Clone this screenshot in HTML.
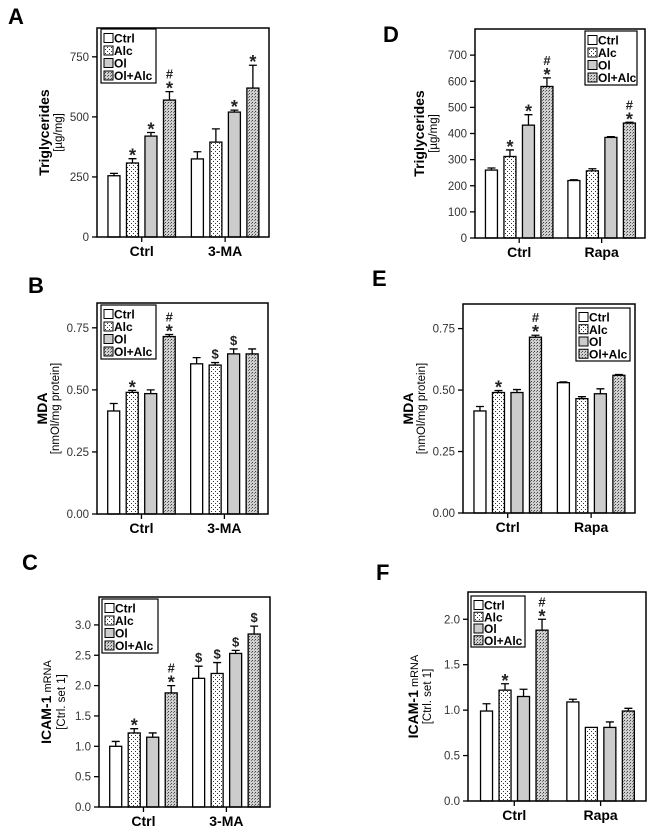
<!DOCTYPE html>
<html><head><meta charset="utf-8"><style>
body{margin:0;background:#fff;}
svg{display:block;font-family:"Liberation Sans",Arial,sans-serif;}
</style></head><body>
<svg id="fig" width="650" height="838" viewBox="0 0 650 838">
<defs>
<pattern id="pAlc" width="4" height="4" patternUnits="userSpaceOnUse"><rect width="4" height="4" fill="#fff"/><rect x="1" y="1" width="1" height="1" fill="#333"/><rect x="3" y="3" width="1" height="1" fill="#333"/></pattern>
<pattern id="pOlAlc" width="3" height="3" patternUnits="userSpaceOnUse"><rect width="3" height="3" fill="#d0d0d0"/><rect x="0" y="0" width="1" height="1" fill="#444"/><rect x="2" y="1" width="1" height="1" fill="#777"/></pattern>
</defs>
</svg>
<script>
const seriesNames=["Ctrl","Alc","Ol","Ol+Alc"];
const fills=["#fff","url(#pAlc)","#cccccc","url(#pOlAlc)"];
const catsA=["Ctrl","3-MA"], catsD=["Ctrl","Rapa"];
const valA=[[255,308,420,570],[325,395,520,620]];
const errA=[[10,18,15,35],[30,55,8,95]];
const annA=[["","*","*","#*"],["","","*","*"]];
const ticksA=[0,250,500,750];
const valD=[[260,312,432,580],[220,257,385,440]];
const errD=[[8,25,40,33],[3,8,3,3]];
const annD=[["","*","*","#*"],["","","","#*"]];
const ticksD=[0,100,200,300,400,500,600,700];
const valB=[[0.415,0.49,0.485,0.715],[0.605,0.60,0.645,0.645]];
const errB=[[0.03,0.008,0.015,0.008],[0.025,0.01,0.02,0.02]];
const annB=[["","*","","#*"],["","$","$",""]];
const ticksB=[0,0.25,0.5,0.75];
const valE=[[0.415,0.49,0.49,0.715],[0.53,0.465,0.485,0.56]];
const errE=[[0.018,0.008,0.012,0.008],[0.003,0.008,0.02,0.003]];
const annE=[["","*","","#*"],["","","",""]];
const ticksE=[0,0.25,0.5,0.75];
const valC=[[1.0,1.22,1.15,1.88],[2.12,2.2,2.53,2.85]];
const errC=[[0.08,0.07,0.07,0.12],[0.2,0.18,0.05,0.13]];
const annC=[["","*","","#*"],["$","$","$","$"]];
const ticksC=[0,0.5,1.0,1.5,2.0,2.5,3.0];
const valF=[[0.99,1.22,1.15,1.88],[1.09,0.81,0.81,0.99]];
const errF=[[0.08,0.07,0.08,0.12],[0.03,0,0.06,0.03]];
const annF=[["","*","","#*"],["","","",""]];
const ticksF=[0,0.5,1.0,1.5,2.0];

const NS="http://www.w3.org/2000/svg";
const svg=document.getElementById("fig");
function mk(tag,attrs,parent,text){const e=document.createElementNS(NS,tag);for(const k in attrs)e.setAttribute(k,attrs[k]);if(text!==undefined)e.textContent=text;(parent||svg).appendChild(e);return e;}

function panel(p){
  const g=mk("g",{});
  
  
  const lab=mk("text",{x:p.lx,y:p.ly,"font-size":22,"font-weight":"bold"},g,p.id);
  
  
  const L=p.L,R=p.R,T=p.T,B=p.B;
  const y=v=>B-(v/p.ymax)*(B-T);
  const W=R-L;
  const gx=gi=>L+W*(gi===0?0.26:0.745);
  const step=18.5,bw=12;
  const bx=(gi,si)=>gx(gi)+(si-1.5)*step-bw/2;
  p.vals.forEach((grp,gi)=>grp.forEach((v,si)=>{
    const r=mk("rect",{x:bx(gi,si),y:y(v),width:bw,height:B-y(v),fill:fills[si],stroke:"#000","stroke-width":1.3},g);
    
    
    const e=p.errs[gi][si];
    const cx=bx(gi,si)+bw/2;
    if(e>0){
      const eb=mk("path",{d:`M${cx},${y(v)} V${y(v+e)} M${cx-4},${y(v+e)} H${cx+4}`,stroke:"#000","stroke-width":1.3,fill:"none"},g);
      
      
    }
    const a=p.anns[gi][si];
    if(a){
      let ty=y(v+e)-4;
      const chars=a.split("").reverse();
      chars.forEach(ch=>{
        const isStar=ch==="*";
        const t=mk("text",{x:cx,y:isStar?ty+7:ty,"text-anchor":"middle","font-size":isStar?18:13,"font-weight":"bold",fill:"#222"},g,ch);
        
        
        ty-=isStar?9:12;
      });
    }
  }));
  const bxr=mk("rect",{x:L,y:T,width:W,height:B-T,fill:"none",stroke:"#000","stroke-width":1.5},g);
  
  
  p.ticks.forEach(t=>{
    mk("line",{x1:L-5,x2:L,y1:y(t),y2:y(t),stroke:"#000","stroke-width":1.3},g);
    const tl=mk("text",{x:L-8,y:y(t)+4,"text-anchor":"end","font-size":11.5,fill:"#333"},g,t.toFixed(p.dec));
    
    
  });
  p.cats.forEach((c,gi)=>{
    mk("line",{x1:gx(gi),x2:gx(gi),y1:B,y2:B+5,stroke:"#000","stroke-width":1.3},g);
    const xl=mk("text",{x:gx(gi),y:B+19,"text-anchor":"middle","font-size":14,"font-weight":"bold"},g,c);
    
    
  });
  const cy=(T+B)/2;
  const yt=mk("text",{transform:`translate(${L-p.t1},${cy}) rotate(-90)`,"text-anchor":"middle","font-size":14,"font-weight":"bold"},g);
  
  
  mk("tspan",{},yt,p.title);
  if(p.titleSmall){mk("tspan",{"font-weight":"normal","font-size":11},yt," "+p.titleSmall);}
  const ys=mk("text",{transform:`translate(${L-p.t2},${cy}) rotate(-90)`,"text-anchor":"middle","font-size":11.5},g,p.sub);
  
  
  const lg=mk("g",{},g);
  
  
  mk("rect",{x:p.gx,y:p.gy,width:p.gw,height:p.gh,fill:"#fff",stroke:"#000","stroke-width":1.2},lg);
  const rh=(p.gh-4)/4;
  seriesNames.forEach((n,i)=>{
    const ry=p.gy+3+i*rh;
    const e=mk("g",{},lg);
    
    
    mk("rect",{x:p.gx+3,y:ry+1.5,width:9,height:9,fill:fills[i],stroke:"#000","stroke-width":1},e);
    mk("text",{x:p.gx+13,y:ry+10.5,"font-size":12,"font-weight":"bold"},e,n);
  });
}

panel({id:"A",lx:8,ly:24,L:97,R:269,T:28,B:237,ymax:870,vals:valA,errs:errA,anns:annA,ticks:ticksA,dec:0,cats:catsA,title:"Triglycerides",sub:"[µg/mg]",t1:48,t2:35,gx:101,gy:29,gw:55,gh:54});
panel({id:"D",lx:383,ly:42,L:475,R:645,T:29,B:238,ymax:800,vals:valD,errs:errD,anns:annD,ticks:ticksD,dec:0,cats:catsD,title:"Triglycerides",sub:"[µg/mg]",t1:51,t2:38,gx:585,gy:31,gw:52,gh:54});
panel({id:"B",lx:28,ly:293,L:97,R:268,T:303,B:514,ymax:0.85,vals:valB,errs:errB,anns:annB,ticks:ticksB,dec:2,cats:catsA,title:"MDA",sub:"[nmOl/mg protein]",t1:50,t2:38,gx:101,gy:305,gw:55,gh:54});
panel({id:"E",lx:372,ly:286,L:463,R:635,T:304,B:513,ymax:0.85,vals:valE,errs:errE,anns:annE,ticks:ticksE,dec:2,cats:catsD,title:"MDA",sub:"[nmOl/mg protein]",t1:50,t2:38,gx:576,gy:308,gw:54,gh:53});
panel({id:"C",lx:22,ly:570,L:99,R:270,T:597,B:807,ymax:3.46,vals:valC,errs:errC,anns:annC,ticks:ticksC,dec:1,cats:catsA,title:"ICAM-1",titleSmall:"mRNA",sub:"[Ctrl. set 1]",t1:48,t2:34,gx:102,gy:599,gw:56,gh:54});
panel({id:"F",lx:376,ly:580,L:468,R:646,T:592,B:801,ymax:2.3,vals:valF,errs:errF,anns:annF,ticks:ticksF,dec:1,cats:catsD,title:"ICAM-1",titleSmall:"mRNA",sub:"[Ctrl. set 1]",t1:50,t2:37,gx:471,gy:596,gw:54,gh:51});
</script>
</body></html>
